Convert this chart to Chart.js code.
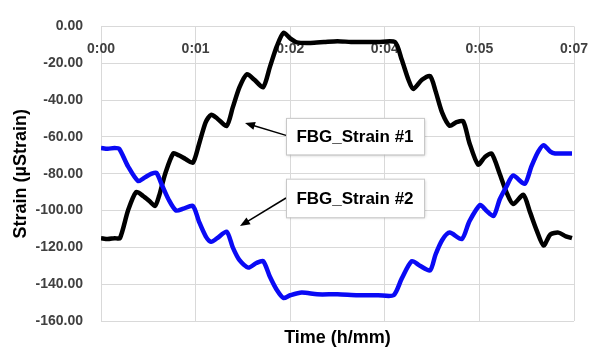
<!DOCTYPE html>
<html>
<head>
<meta charset="utf-8">
<script src="https://cdn.jsdelivr.net/npm/chart.js@4.4.1/dist/chart.umd.min.js"></script>
<style>
  html, body { margin: 0; padding: 0; background: #fff; }
  #wrap { width: 596px; height: 352px; }
</style>
</head>
<body>
<div id="wrap"><canvas id="chart"></canvas></div>
<script>
// time in minutes, strain in microstrain
var strain1Time = [0, 0.1, 0.2, 0.28, 0.4, 0.52, 0.62, 0.72, 0.8, 0.86, 0.95, 1.07, 1.15, 1.25, 1.36, 1.45, 1.55, 1.63, 1.72, 1.86,
  1.95, 2.05, 2.16, 2.27, 2.4, 2.5, 2.6, 2.7, 2.8, 2.9, 3.1, 3.3, 3.5, 3.7, 3.9, 4.1, 4.35, 4.45, 4.55, 4.62,
  4.75, 4.87, 4.95, 5.05, 5.16, 5.26, 5.36, 5.45, 5.58, 5.68, 5.78, 5.9, 6.0, 6.1, 6.25, 6.35, 6.45, 6.55, 6.65, 6.77, 6.88, 6.97];
var strain1Values = [-115, -115.5, -115, -115, -100, -90, -92, -95, -97.5, -92, -80, -69, -70, -72, -74, -64, -52, -48, -50, -54,
  -44, -33, -26, -29, -33, -22, -11, -3.5, -6.5, -8.7, -9, -8.5, -8, -8.5, -8.5, -8.5, -8.5, -18, -29, -34,
  -29, -27, -35, -47, -54, -52, -51.5, -63, -75, -71, -69, -80, -90, -96.5, -91.5, -101, -111, -119, -113, -112, -114, -115];

var strain2Time = [0, 0.1, 0.2, 0.27, 0.4, 0.55, 0.65, 0.75, 0.82, 0.9, 1.0, 1.11, 1.22, 1.36, 1.45, 1.55, 1.63, 1.72, 1.86,
  1.95, 2.05, 2.18, 2.3, 2.4, 2.5, 2.6, 2.7, 2.8, 2.97, 3.2, 3.5, 3.8, 4.1, 4.33, 4.45, 4.6, 4.72, 4.87,
  4.95, 5.05, 5.16, 5.34, 5.45, 5.61, 5.7, 5.81, 5.9, 6.0, 6.1, 6.27, 6.37, 6.47, 6.55, 6.65, 6.72, 6.85, 6.97];
var strain2Values = [-66, -66.5, -66, -66.5, -76, -84, -82, -80, -79.5, -86, -94, -100, -99, -97.5, -106, -114, -117, -115, -111.5,
  -120, -127, -131, -128.5, -127.5, -136, -143, -147.5, -146, -144.5, -145.5, -145.5, -146, -146, -146, -137, -127.5, -130, -132.5,
  -124, -116, -112, -115.5, -106, -97, -100, -103, -94, -87, -81, -85.5, -76, -68, -64.5, -68, -69, -69, -69];

var seriesNames = ['FBG_Strain #1', 'FBG_Strain #2'];
var xTickPos = [0, 1.4, 2.8, 4.2, 5.6, 7.0];
var xTickLabels = ['0:00', '0:01', '0:02', '0:04', '0:05', '0:07'];

var FONT = '"Liberation Sans", Arial, sans-serif';

function toPoints(ts, vs) {
    return ts.map(function(t, i) { return {x: t, y: vs[i]}; });
}

// callout boxes and arrows, in data units (minutes, microstrain)
var callouts = [
    {text: seriesNames[0], x0: 2.738, x1: 4.78, y0: -49.7, y1: -69.6, tail: [2.738, -59.2], head: [2.131, -52.4]},
    {text: seriesNames[1], x0: 2.738, x1: 4.78, y0: -82.7, y1: -103.7, tail: [2.738, -93.2], head: [2.057, -108.4]}
];

var overlay = {
    id: 'overlay',
    beforeDatasetsDraw: function(chart) {
        var ctx = chart.ctx, xs = chart.scales.x, area = chart.chartArea;
        ctx.save();
        ctx.font = 'bold 14px ' + FONT;
        ctx.fillStyle = '#404040';
        ctx.textAlign = 'center';
        ctx.textBaseline = 'middle';
        xTickPos.forEach(function(v, i) {
            ctx.fillText(xTickLabels[i], xs.getPixelForValue(v), area.top + 23);
        });
        ctx.restore();
    },
    afterDraw: function(chart) {
        var ctx = chart.ctx, xs = chart.scales.x, ys = chart.scales.y, area = chart.chartArea;
        ctx.save();
        callouts.forEach(function(c) {
            var left = xs.getPixelForValue(c.x0), right = xs.getPixelForValue(c.x1);
            var top = ys.getPixelForValue(c.y0), bottom = ys.getPixelForValue(c.y1);
            // arrow
            var tx = xs.getPixelForValue(c.tail[0]), ty = ys.getPixelForValue(c.tail[1]);
            var hx = xs.getPixelForValue(c.head[0]), hy = ys.getPixelForValue(c.head[1]);
            var ang = Math.atan2(hy - ty, hx - tx);
            ctx.strokeStyle = '#000';
            ctx.fillStyle = '#000';
            ctx.lineWidth = 1.5;
            ctx.beginPath();
            ctx.moveTo(tx, ty);
            ctx.lineTo(hx - 7 * Math.cos(ang), hy - 7 * Math.sin(ang));
            ctx.stroke();
            ctx.beginPath();
            ctx.moveTo(hx, hy);
            ctx.lineTo(hx - 10 * Math.cos(ang) + 4 * Math.sin(ang), hy - 10 * Math.sin(ang) - 4 * Math.cos(ang));
            ctx.lineTo(hx - 10 * Math.cos(ang) - 4 * Math.sin(ang), hy - 10 * Math.sin(ang) + 4 * Math.cos(ang));
            ctx.closePath();
            ctx.fill();
            // box
            ctx.save();
            ctx.shadowColor = 'rgba(0,0,0,0.25)';
            ctx.shadowBlur = 3;
            ctx.shadowOffsetX = 1;
            ctx.shadowOffsetY = 1;
            ctx.fillStyle = '#fff';
            ctx.fillRect(left, top, right - left, bottom - top);
            ctx.restore();
            ctx.strokeStyle = '#c8c8c8';
            ctx.lineWidth = 1;
            ctx.strokeRect(left + 0.5, top + 0.5, right - left, bottom - top);
            ctx.fillStyle = '#000';
            ctx.font = 'bold 17px ' + FONT;
            ctx.textAlign = 'center';
            ctx.textBaseline = 'middle';
            ctx.fillText(c.text, (left + right) / 2, (top + bottom) / 2 + 1);
        });
        // axis titles
        ctx.fillStyle = '#000';
        ctx.font = 'bold 18px ' + FONT;
        ctx.textAlign = 'center';
        ctx.textBaseline = 'middle';
        ctx.fillText('Time (h/mm)', (area.left + area.right) / 2, 338);
        ctx.translate(21, (area.top + area.bottom) / 2);
        ctx.rotate(-Math.PI / 2);
        ctx.fillText('Strain (\u00b5Strain)', 0, 0);
        ctx.restore();
    }
};

const ctx = document.getElementById('chart');

new Chart(ctx, {
    type: 'line',
    data: {
        datasets: [
            {
                label: seriesNames[1],
                data: toPoints(strain2Time, strain2Values),
                borderColor: '#0a0af5',
                borderWidth: 4.5,
                pointRadius: 0,
                tension: 0.25,
                fill: false
            },
            {
                label: seriesNames[0],
                data: toPoints(strain1Time, strain1Values),
                borderColor: '#000000',
                borderWidth: 4.5,
                pointRadius: 0,
                tension: 0.25,
                fill: false
            }
        ]
    },
    options: {
        responsive: true,
        maintainAspectRatio: false,
        animation: false,
        layout: {
            padding: {left: 0, right: 22, top: 15, bottom: 31}
        },
        plugins: {
            legend: { display: false },
            tooltip: { enabled: false }
        },
        scales: {
            x: {
                type: 'linear',
                min: 0,
                max: 7,
                afterBuildTicks: function(scale) {
                    scale.ticks = xTickPos.map(function(v) { return {value: v}; });
                },
                afterFit: function(scale) { scale.height = 0; },
                border: { display: false },
                grid: { color: '#d9d9d9', lineWidth: 1, drawTicks: false },
                ticks: { display: false }
            },
            y: {
                min: -160,
                max: 0,
                afterFit: function(scale) { scale.width = 101; },
                border: { color: '#d9d9d9' },
                grid: { color: '#d9d9d9', lineWidth: 1, drawTicks: false },
                ticks: {
                    stepSize: 20,
                    padding: 18,
                    color: '#404040',
                    font: { family: FONT, size: 14, weight: 'bold' },
                    callback: function(v) { return v.toFixed(2); }
                }
            }
        }
    },
    plugins: [overlay]
});
</script>
</body>
</html>
